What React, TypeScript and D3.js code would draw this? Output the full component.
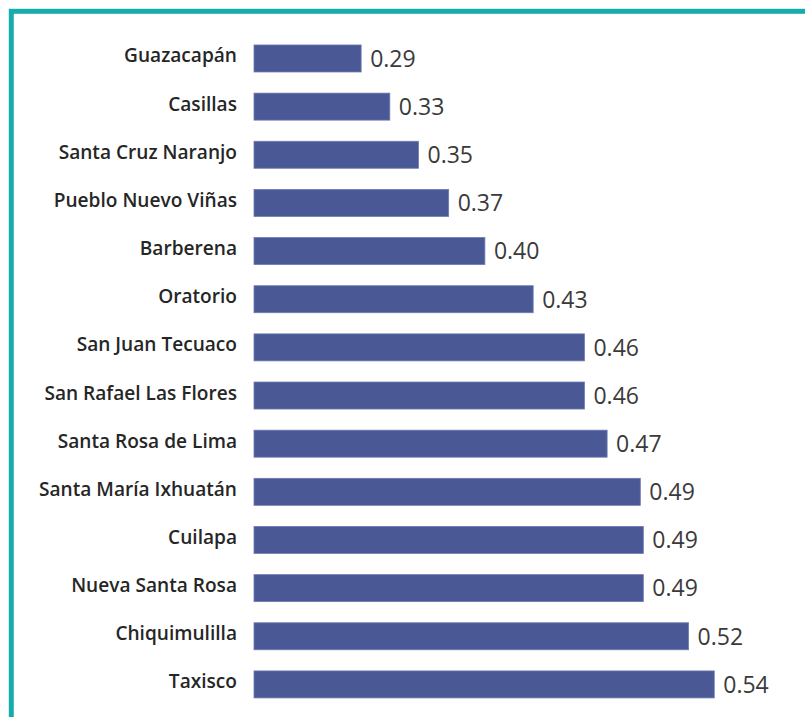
import { useEffect, useRef } from "react";
import * as d3 from "d3";

// municipalities, top to bottom
const CATEGORIES = [
  "Guazacapán",
  "Casillas",
  "Santa Cruz Naranjo",
  "Pueblo Nuevo Viñas",
  "Barberena",
  "Oratorio",
  "San Juan Tecuaco",
  "San Rafael Las Flores",
  "Santa Rosa de Lima",
  "Santa María Ixhuatán",
  "Cuilapa",
  "Nueva Santa Rosa",
  "Chiquimulilla",
  "Taxisco",
];

// bar lengths
const VALUES = [0.311, 0.33, 0.349, 0.369, 0.393, 0.425, 0.459, 0.459, 0.474, 0.496, 0.498, 0.498, 0.528, 0.545];

// printed value labels
const LABELS = ["0.29", "0.33", "0.35", "0.37", "0.40", "0.43", "0.46", "0.46", "0.47", "0.49", "0.49", "0.49", "0.52", "0.54"];

const X_DOMAIN: [number, number] = [0.24, 0.55];

export default function App() {
  const svgRef = useRef<SVGSVGElement | null>(null);

  useEffect(() => {
    if (!svgRef.current) return;
    const W = 805, H = 717;
    const svg = d3.select(svgRef.current);
    svg.selectAll("*").remove();
    svg.attr("width", W).attr("height", H).attr("viewBox", `0 0 ${W} ${H}`);

    svg.append("rect").attr("width", W).attr("height", H).attr("fill", "#ffffff");

    // teal frame (only top and left edges visible)
    svg.append("rect")
      .attr("x", 11.3).attr("y", 11.3)
      .attr("width", W + 40).attr("height", H + 40)
      .attr("fill", "none")
      .attr("stroke", "#17abab")
      .attr("stroke-width", 5);

    const x = d3.scaleLinear().domain(X_DOMAIN).range([254, 721.8]);
    const y = d3.scaleBand<string>()
      .domain(CATEGORIES)
      .range([34.4, 708.5])
      .paddingInner(0.439)
      .paddingOuter(0.2195);

    const g = svg.append("g");

    CATEGORIES.forEach((cat, i) => {
      const top = y(cat) ?? 0;
      const bw = y.bandwidth();
      const cy = top + bw / 2;
      const x0 = x(X_DOMAIN[0]);
      const x1 = x(VALUES[i]);

      g.append("rect")
        .attr("x", x0)
        .attr("y", top)
        .attr("width", x1 - x0)
        .attr("height", bw)
        .attr("fill", "#4a5995")
        .attr("stroke", "#6f7cb0")
        .attr("stroke-width", 0.8);

      g.append("text")
        .attr("x", 237)
        .attr("y", cy + 4)
        .attr("text-anchor", "end")
        .attr("font-family", "'Open Sans', sans-serif")
        .attr("font-weight", 600)
        .attr("font-size", 19.1)
        .attr("fill", "#262626")
        .text(cat);

      g.append("text")
        .attr("x", x1 + 9)
        .attr("y", cy + 8.3)
        .attr("font-family", "'Open Sans', sans-serif")
        .attr("font-weight", 400)
        .attr("font-size", 23)
        .attr("fill", "#3a3a3a")
        .text(LABELS[i]);
    });
  }, []);

  return (
    <svg
      ref={svgRef}
      style={{ display: "block", position: "absolute", left: 0, top: 0 }}
    />
  );
}
